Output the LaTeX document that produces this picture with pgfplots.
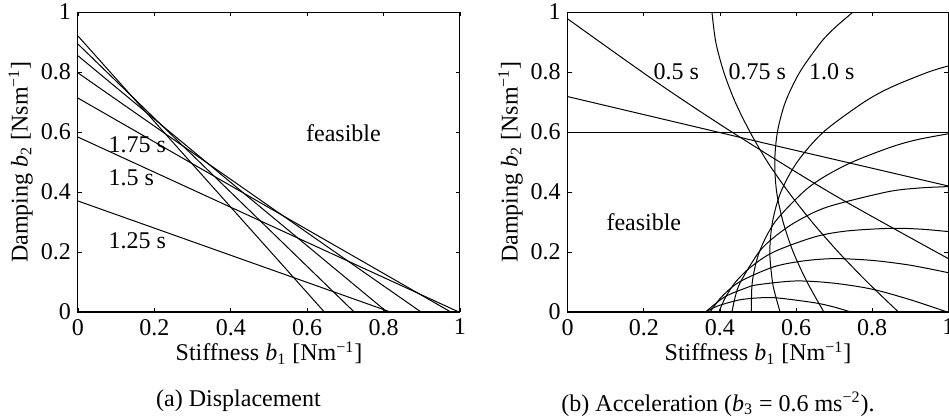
\documentclass[border=0pt]{standalone}
\usepackage{fontspec}
\setmainfont{Liberation Serif}
\usepackage{pgfplots}
\pgfplotsset{compat=1.18}

\pgfplotsset{
  panel/.style={
    scale only axis, height=150pt,
    xmin=0, xmax=1, ymin=0, ymax=1,
    xtick={0,0.2,0.4,0.6,0.8,1}, xticklabels={0,0.2,0.4,0.6,0.8,1},
    ytick={0,0.2,0.4,0.6,0.8,1}, yticklabels={0,0.2,0.4,0.6,0.8,1},
    tick align=inside, major tick length=2.2pt,
    axis line style={line width=0.5pt},
    every tick/.style={black, line width=0.4pt},
    tick label style={font=\fontsize{12}{14}\selectfont},
    label style={font=\fontsize{12}{14}\selectfont},
    xlabel={Stiffness \textit{b}\textsubscript{1} [Nm\textsuperscript{−1}]},
    ylabel={Damping \textit{b}\textsubscript{2} [Nsm\textsuperscript{−1}]},
    xlabel style={at={(axis description cs:0.5,-0.137)}, anchor=center},
    ylabel style={at={(axis description cs:-0.15,0.5)}, anchor=center},
  },
  ln/.style={black, line width=0.5pt, mark=none},
  crv/.style={black, line width=0.5pt, mark=none, smooth},
}
\tikzset{lbl/.style={font=\fontsize{12}{14}\selectfont, anchor=west, inner sep=0pt}}

\begin{document}
\begin{tikzpicture}

% (a) displacement limit x(t) = 1, t = 1.25 ... 2.75 s
\begin{axis}[panel, width=191pt, at={(39pt,53.5pt)}, anchor=south west]
\addplot[ln] coordinates {(0,0.370) (0.818,0)};
\addplot[ln] coordinates {(0,0.583) (0.997,0)};
\addplot[ln] coordinates {(0,0.713) (0.976,0)};
\addplot[ln] coordinates {(0,0.797) (0.898,0)};
\addplot[ln] coordinates {(0,0.854) (0.809,0)};
\addplot[ln] coordinates {(0,0.893) (0.723,0)};
\addplot[ln] coordinates {(0,0.920) (0.645,0)};
\addplot[black, line width=1.4pt] coordinates {(0,0) (1,0)};
\node[lbl] at (axis cs:0.079,0.557) {1.75 s};
\node[lbl] at (axis cs:0.079,0.447) {1.5 s};
\node[lbl] at (axis cs:0.079,0.237) {1.25 s};
\node[lbl, anchor=center] at (axis cs:0.695,0.597) {feasible};
\end{axis}

% (b) acceleration limit a(t) = -0.6, t = 0.25 ... 2.75 s
\begin{axis}[panel, width=190.3pt, at={(283.85pt,53.5pt)}, anchor=south west]
\addplot[ln] coordinates {(0,0.6) (1,0.6)};
% 0.25 s
\addplot[ln] coordinates {(0,0.718) (0.5,0.568) (1,0.42)};
% 0.5 s
\addplot[crv] coordinates {(0,0.977) (0.234,0.766) (0.435,0.597) (0.7,0.39) (1,0.178)};
% 0.75 s
\addplot[crv] coordinates {(0.379,1) (0.389,0.9) (0.41,0.8) (0.44,0.7) (0.479,0.6) (0.525,0.5) (0.58,0.4) (0.642,0.3) (0.711,0.2) (0.787,0.1) (0.869,0)};
% 1.0 s
\addplot[crv] coordinates {(0.75,1) (0.704,0.95) (0.666,0.9) (0.61,0.8) (0.572,0.7) (0.551,0.6) (0.544,0.5) (0.549,0.4) (0.566,0.3) (0.5925,0.2) (0.629,0.1) (0.673,0)};
% 1.25 s
\addplot[crv] coordinates {(0.558,0) (0.547,0.05) (0.538,0.1) (0.531,0.2) (0.538,0.3) (0.56,0.4) (0.603,0.5) (0.672,0.6) (0.779,0.7) (0.851,0.75) (0.948,0.8) (1,0.82)};
% 1.5 s
\addplot[crv] coordinates {(0.4827,0) (0.485,0.1) (0.5035,0.2) (0.5445,0.3) (0.619,0.4) (0.673,0.45) (0.748,0.5) (0.85,0.55) (0.92,0.575) (1,0.594)};
% 1.75 s
\addplot[crv] coordinates {(0.4316,0) (0.44,0.05) (0.454,0.1) (0.5025,0.2) (0.543,0.25) (0.599,0.3) (0.682,0.35) (0.838,0.4) (0.92,0.413) (1,0.418)};
% 2.0 s
\addplot[crv] coordinates {(0.397,0) (0.415,0.05) (0.441,0.1) (0.481,0.15) (0.541,0.2) (0.648,0.25) (0.733,0.27) (0.85,0.279) (0.93,0.276) (1,0.268)};
% 2.25 s
\addplot[crv] coordinates {(0.374,0) (0.404,0.05) (0.451,0.1) (0.54,0.15) (0.618,0.17) (0.7,0.178) (0.8,0.172) (0.9,0.156) (1,0.131)};
% 2.5 s
\addplot[crv] coordinates {(0.362,0) (0.412,0.05) (0.468,0.08) (0.5,0.091) (0.6,0.1035) (0.7,0.096) (0.8,0.076) (0.9,0.041) (0.997,0)};
% 2.75 s
\addplot[crv] coordinates {(0.3626,0) (0.394,0.02) (0.45,0.04) (0.5,0.047) (0.55,0.047) (0.65,0.0305) (0.7,0.0165) (0.744,0)};
\addplot[black, line width=1.4pt] coordinates {(0,0) (1,0)};
\node[lbl] at (axis cs:0.225,0.80) {0.5 s};
\node[lbl] at (axis cs:0.422,0.80) {0.75 s};
\node[lbl] at (axis cs:0.633,0.80) {1.0 s};
\node[lbl, anchor=center] at (axis cs:0.2,0.30) {feasible};
\end{axis}

\node[font=\fontsize{12}{14}\selectfont] at (119.25pt,9pt) {(a) Displacement};
\node[font=\fontsize{12}{14}\selectfont] at (359pt,7.5pt) {(b) Acceleration (\textit{b}\textsubscript{3} = 0.6 ms\textsuperscript{−2}).};

\pgfresetboundingbox
\useasboundingbox (0,0) rectangle (474.5pt,209.5pt);
\end{tikzpicture}
\end{document}
